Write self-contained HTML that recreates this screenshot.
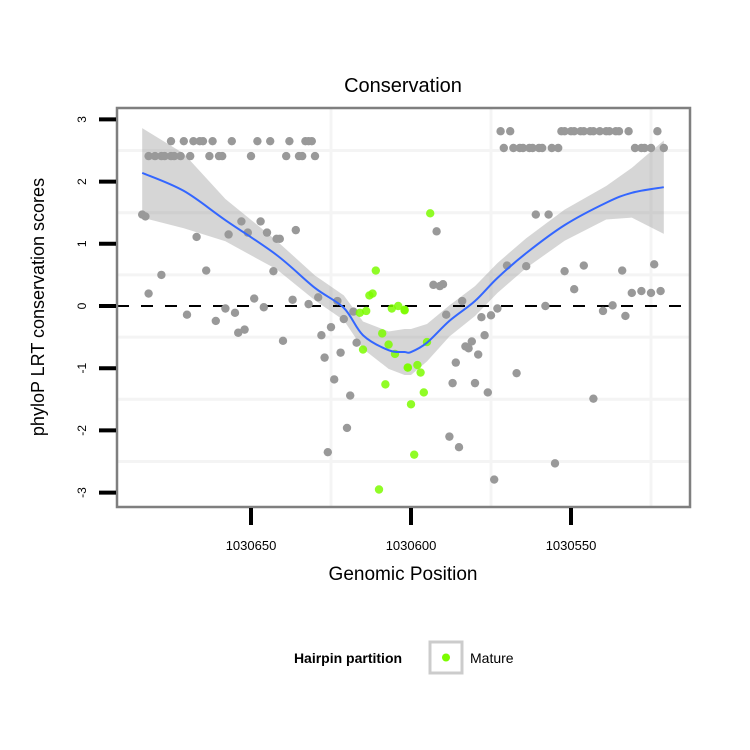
<!DOCTYPE html>
<html><head><meta charset="utf-8"><style>
html,body{margin:0;padding:0;background:#fff;}
svg{display:block;font-family:"Liberation Sans",sans-serif;}
</style></head><body>
<svg id="chart" width="750" height="750" viewBox="0 0 750 750" xmlns="http://www.w3.org/2000/svg">
<rect x="0" y="0" width="750" height="750" fill="#fff"/>
<text x="403" y="92" text-anchor="middle" font-size="20">Conservation</text>
<g id="panel"></g>
<text transform="translate(44,307) rotate(-90)" text-anchor="middle" font-size="18">phyloP LRT conservation scores</text>
<text x="403" y="580" text-anchor="middle" font-size="19">Genomic Position</text>
<g>
<text x="348" y="663" text-anchor="middle" font-size="14" font-weight="bold">Hairpin partition</text>
<rect x="430" y="642" width="32" height="31" fill="#fff" stroke="#cccccc" stroke-width="3"/>
<circle cx="446" cy="657.5" r="4" fill="#7cfc00"/>
<text x="470" y="663" font-size="14">Mature</text>
</g>
</svg>
<script>
const grayPos = [1030675,1030671,1030668,1030666,1030665,1030662,1030656,1030648,1030644,1030638,1030633,1030632,1030631,
1030682,1030680,1030678,1030677,1030675,1030674,1030672,1030669,1030663,1030660,1030659,1030650,1030639,1030635,1030634,1030630,
1030684,1030683,1030667,1030678,1030682,1030664,1030657,1030653,1030651,1030647,1030645,1030642,1030641,1030636,1030643,1030649,1030646,1030637,1030632,1030629,1030623,1030670,1030658,1030655,1030661,1030654,1030652,1030640,1030628,1030625,1030621,1030618,1030617,1030627,1030622,1030624,1030619,1030620,1030626,
1030572,1030569,1030553,1030552,1030550,1030549,1030547,1030546,1030544,1030543,1030541,1030539,1030538,1030536,1030535,1030532,1030523,
1030571,1030568,1030566,1030565,1030563,1030562,1030560,1030559,1030556,1030554,1030530,1030528,1030527,1030525,1030521,
1030561,1030557,1030592,1030570,1030564,1030552,1030546,1030534,1030524,1030593,1030590,1030591,1030549,1030531,1030528,1030525,1030522,1030584,1030573,1030558,1030540,1030537,1030533,1030589,1030578,1030575,1030577,1030581,1030583,1030582,1030579,1030586,1030567,1030587,1030580,1030576,1030543,1030588,1030585,1030555,1030574];
const grayScore = [2.65,2.65,2.65,2.65,2.65,2.65,2.65,2.65,2.65,2.65,2.65,2.65,2.65,
2.41,2.41,2.41,2.41,2.41,2.41,2.41,2.41,2.41,2.41,2.41,2.41,2.41,2.41,2.41,2.41,
1.47,1.44,1.11,0.50,0.20,0.57,1.15,1.36,1.18,1.36,1.18,1.08,1.08,1.22,0.56,0.12,-0.02,0.10,0.03,0.14,0.08,-0.14,-0.04,-0.11,-0.24,-0.43,-0.38,-0.56,-0.47,-0.34,-0.21,-0.09,-0.59,-0.83,-0.75,-1.18,-1.44,-1.96,-2.35,
2.81,2.81,2.81,2.81,2.81,2.81,2.81,2.81,2.81,2.81,2.81,2.81,2.81,2.81,2.81,2.81,2.81,
2.54,2.54,2.54,2.54,2.54,2.54,2.54,2.54,2.54,2.54,2.54,2.54,2.54,2.54,2.54,
1.47,1.47,1.20,0.65,0.64,0.56,0.65,0.57,0.67,0.34,0.35,0.32,0.27,0.21,0.24,0.21,0.24,0.08,-0.04,0.00,-0.08,0.01,-0.16,-0.14,-0.18,-0.15,-0.47,-0.57,-0.65,-0.68,-0.78,-0.91,-1.08,-1.24,-1.24,-1.39,-1.49,-2.10,-2.27,-2.53,-2.79];
const maturePos = [1030611,1030613,1030612,1030616,1030614,1030606,1030604,1030602,1030609,1030607,1030605,1030615,1030608,1030610,1030601,
1030594,1030602,1030595,1030601,1030598,1030597,1030596,1030600,1030599];
const matureScore = [0.57,0.17,0.20,-0.11,-0.08,-0.04,0.00,-0.06,-0.44,-0.62,-0.77,-0.70,-1.26,-2.95,-0.99,
1.49,-0.07,-0.58,-0.99,-0.95,-1.07,-1.39,-1.58,-2.39];
const fitPos = [1030684,1030671,1030658,1030642,1030630,1030621,1030615,1030607,1030602,1030600,1030595,1030588,1030580,1030573,1030564,1030552,1030539,1030531,1030521];
const fitVal = [2.14,1.85,1.38,0.82,0.29,-0.03,-0.47,-0.71,-0.74,-0.74,-0.59,-0.24,0.08,0.45,0.85,1.30,1.66,1.82,1.91];
const fitSe = [0.72,0.6,0.34,0.23,0.2,0.2,0.22,0.3,0.37,0.37,0.3,0.25,0.24,0.24,0.24,0.25,0.27,0.4,0.75];
const yTicks = [3,2,1,0,-1,-2,-3];
const yGrid = [2.5,1.5,0.5,-0.5,-1.5,-2.5];
const xTicks = [1030650,1030600,1030550];
const xGrid = [1030625,1030575,1030525];

const NS='http://www.w3.org/2000/svg';
const L=117,R=690,T=108,B=507;
function sx(p){return 411+(1030600-p)*3.2;}
function sy(v){return 306-v*62.2;}
const svg=document.getElementById('chart');
const panel=document.getElementById('panel');
function mk(tag,attrs,parent){const e=document.createElementNS(NS,tag);for(const k in attrs)e.setAttribute(k,attrs[k]);(parent||panel).appendChild(e);return e;}

yGrid.forEach(v=>{const e=mk('line',{x1:L,x2:R,y1:sy(v),y2:sy(v),stroke:'#f4f4f4','stroke-width':3});

});
xGrid.forEach(p=>{const e=mk('line',{x1:sx(p),x2:sx(p),y1:T,y2:B,stroke:'#f4f4f4','stroke-width':3});

});

// confidence band
let up=fitPos.map((p,i)=>sx(p)+','+sy(fitVal[i]+fitSe[i]));
let lo=fitPos.map((p,i)=>sx(p)+','+sy(fitVal[i]-fitSe[i])).reverse();
const band=mk('polygon',{points:up.concat(lo).join(' '),fill:'#999999','fill-opacity':0.4});



// zero line
const z=mk('line',{x1:L,x2:R,y1:sy(0),y2:sy(0),stroke:'#000','stroke-width':2,'stroke-dasharray':'12,12'});



grayPos.forEach((p,i)=>{const c=mk('circle',{cx:sx(p),cy:sy(grayScore[i]),r:4.2,fill:'#999999'});

});
maturePos.forEach((p,i)=>{const c=mk('circle',{cx:sx(p),cy:sy(matureScore[i]),r:4.2,fill:'#7cfc00','fill-opacity':0.85});

});

// smooth line (catmull-rom)
const pts=fitPos.map((p,i)=>[sx(p),sy(fitVal[i])]);
let d='M'+pts[0][0]+','+pts[0][1];
for(let i=0;i<pts.length-1;i++){const p0=pts[i-1]||pts[i],p1=pts[i],p2=pts[i+1],p3=pts[i+2]||p2;
d+=' C'+(p1[0]+(p2[0]-p0[0])/6)+','+(p1[1]+(p2[1]-p0[1])/6)+' '+(p2[0]-(p3[0]-p1[0])/6)+','+(p2[1]-(p3[1]-p1[1])/6)+' '+p2[0]+','+p2[1];}
const ln=mk('path',{d:d,fill:'none',stroke:'#3366ff','stroke-width':2});



const border=mk('rect',{x:L,y:T,width:R-L,height:B-T,fill:'none',stroke:'#7f7f7f','stroke-width':2.5});



yTicks.forEach(v=>{const t=mk('line',{x1:99,x2:116,y1:sy(v),y2:sy(v),stroke:'#000','stroke-width':4},svg);


const tx=mk('text',{transform:'translate(86,'+sy(v)+') rotate(-90)','text-anchor':'middle','font-size':12},svg);
tx.textContent=String(v);

});
xTicks.forEach(p=>{const t=mk('line',{x1:sx(p),x2:sx(p),y1:508,y2:525,stroke:'#000','stroke-width':4},svg);


const tx=mk('text',{x:sx(p),y:550,'text-anchor':'middle','font-size':13},svg);
tx.textContent=String(p);

});
</script>
</body></html>
